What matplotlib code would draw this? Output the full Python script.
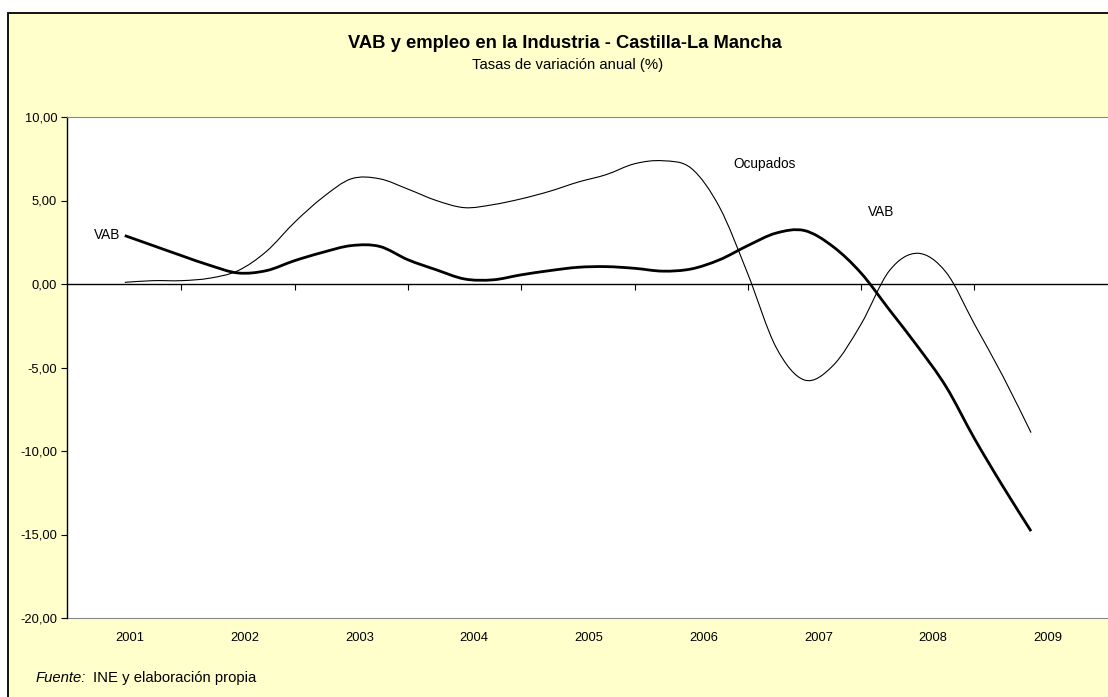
#!/usr/bin/env python
import numpy as np
import matplotlib
matplotlib.use('Agg')
from matplotlib import pyplot as plt
from matplotlib.patches import Rectangle, PathPatch
from matplotlib.path import Path

plt.rcParams['font.family'] = ['Liberation Sans', 'DejaVu Sans']

# quarterly annual growth rates, 2001 Q1 .. 2009 Q1
vab = [2.9, 2.3, 1.7, 1.12, 0.66, 0.8, 1.4, 1.9, 2.3, 2.25, 1.45, 0.85,
       0.3, 0.25, 0.55, 0.8, 1.0, 1.04, 0.94, 0.77, 0.9, 1.45, 2.3, 3.05,
       3.2, 2.25, 0.65, -1.55, -3.75, -6.15, -9.25, -12.1, -14.8]
ocupados = [0.1, 0.2, 0.2, 0.35, 0.8, 1.95, 3.7, 5.2, 6.3, 6.3, 5.68, 5.0,
            4.57, 4.75, 5.1, 5.55, 6.1, 6.55, 7.2, 7.38, 6.93, 4.6, 0.6, -3.8,
            -5.75, -4.9, -2.4, 0.8, 1.84, 0.7, -2.4, -5.5, -8.9]
years = ['2001', '2002', '2003', '2004', '2005', '2006', '2007', '2008', '2009']
y_ticks = [-20, -15, -10, -5, 0, 5, 10]


def smooth_path(xs, ys):
    # Excel-like smoothed line: cubic bezier segments through every point
    p = np.column_stack([xs, ys]).astype(float)
    ext = np.vstack([p[0], p, p[-1]])
    verts = [p[0]]
    codes = [Path.MOVETO]
    for i in range(len(p) - 1):
        p0, p1, p2, p3 = ext[i], ext[i + 1], ext[i + 2], ext[i + 3]
        verts += [p1 + (p2 - p0) / 6, p2 - (p3 - p1) / 6, p2]
        codes += [Path.CURVE4] * 3
    return Path(verts, codes)


FS = 9.3
W, H = 1108, 697
fig = plt.figure(figsize=(W / 100, H / 100), dpi=100, facecolor='white')

# yellow chart frame (cut off at right/bottom like the original)
fig.patches.append(Rectangle((8 / W, -0.05), 1.1, 1 - 13 / H + 0.05,
                             transform=fig.transFigure, facecolor='#FFFFCC',
                             edgecolor='black', linewidth=1.3, zorder=-5))

left, bottom, top = 67 / W, 1 - 618 / H, 1 - 117 / H
ax = fig.add_axes([left, bottom, 1.02 - left, top - bottom])
ax.set_facecolor('white')

x = np.arange(len(vab))
ax.add_patch(PathPatch(smooth_path(x, ocupados), facecolor='none',
                       edgecolor='black', linewidth=0.8, zorder=3))
ax.add_patch(PathPatch(smooth_path(x, vab), facecolor='none',
                       edgecolor='black', linewidth=2.0, zorder=4))

ax.set_xlim(-2.04, 35.5)
ax.set_ylim(-20, 10)

# y axis
ax.set_yticks(y_ticks)
ax.set_yticklabels([f'{v:.2f}'.replace('.', ',') for v in y_ticks])
ax.tick_params(axis='y', direction='out', length=4, width=0.8, pad=3,
               labelsize=FS, colors='black')

# zero line carries the category tick marks
ax.spines['bottom'].set_position(('data', 0))
ax.spines['bottom'].set_linewidth(1.0)
ax.set_xticks(np.arange(2, len(vab), 4))
ax.tick_params(axis='x', direction='out', length=4, width=0.8, labelbottom=False)

ax.spines['left'].set_linewidth(1.0)
ax.spines['top'].set_color('#888888')
ax.spines['right'].set_visible(False)

# year labels along the bottom of the plot area
sec = ax.secondary_xaxis('bottom')
sec.set_xticks(np.linspace(0.176, 32.6, len(years)))
sec.set_xticklabels(years)
sec.tick_params(length=0, pad=10, labelsize=FS)
sec.spines['bottom'].set_color('#888888')

# series labels
ax.text(-0.15, 2.93, 'VAB', ha='right', va='center', fontsize=9.8)
ax.text(22.6, 7.19, 'Ocupados', ha='center', va='center', fontsize=9.8)
ax.text(26.7, 4.31, 'VAB', ha='center', va='center', fontsize=9.8)

fig.text(565 / W, 1 - 43 / H, 'VAB y empleo en la Industria - Castilla-La Mancha',
         ha='center', va='center', fontsize=13.2, fontweight='bold')
fig.text(568 / W, 1 - 65 / H, 'Tasas de variación anual (%)',
         ha='center', va='center', fontsize=10.7)

fig.text(36 / W, 1 - 678 / H, 'Fuente:', ha='left', va='center',
         fontsize=10.7, style='italic')
fig.text(93 / W, 1 - 678 / H, 'INE y elaboración propia', ha='left',
         va='center', fontsize=10.7)

fig.savefig('out.png', dpi=100, facecolor='white')
